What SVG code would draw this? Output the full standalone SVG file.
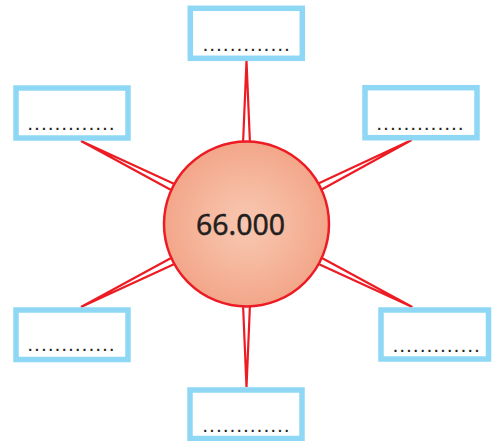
<svg xmlns="http://www.w3.org/2000/svg" width="492" height="441" viewBox="0 0 492 441">
<style>
.box{fill:#ffffff;stroke:#8fd8f5;stroke-width:5.5}
.dots{font-family:"Liberation Sans",Arial,sans-serif;font-size:14px;font-weight:bold;fill:#231f20;letter-spacing:2.9px}
.wedge{fill:none;stroke:#ed1c24;stroke-width:2.2;stroke-linejoin:miter}
.num{font-family:"Noto Sans","Liberation Sans",sans-serif;font-size:28.5px;fill:#231f20;stroke:#231f20;stroke-width:0.4;text-anchor:middle}
</style>
<defs>
<radialGradient id="g" cx="50%" cy="50%" r="50%">
<stop offset="0" stop-color="#f8c6b1"/>
<stop offset="0.4" stop-color="#f6bca3"/>
<stop offset="1" stop-color="#f3a689"/>
</radialGradient>
</defs>
<rect width="492" height="441" fill="#ffffff"/>
<g id="connectors">
<path class="wedge" d="M243,144 L246.5,61 L250,144"/>
<path class="wedge" d="M176.6,185 L81,141 L173.4,191.2"/>
<path class="wedge" d="M319.4,190.8 L411.7,140 L316.2,184.6"/>
<path class="wedge" d="M173.4,256.8 L81,307 L176.6,263"/>
<path class="wedge" d="M316.4,262.9 L412.3,307 L319.6,256.7"/>
<path class="wedge" d="M243,304 L246.5,387 L250,304"/>
</g>
<g id="box-top">
<rect class="box" x="190.3" y="8.3" width="112" height="50"/>
<text class="dots" x="203.5" y="51">.............</text>
</g>
<g id="box-left-top">
<rect class="box" x="16" y="88" width="112" height="50"/>
<text class="dots" x="28.3" y="130">.............</text>
</g>
<g id="box-right-top">
<rect class="box" x="365" y="87.7" width="112" height="50"/>
<text class="dots" x="377.3" y="130">.............</text>
</g>
<g id="box-left-bottom">
<rect class="box" x="16" y="310" width="112" height="49.5"/>
<text class="dots" x="28.3" y="351">.............</text>
</g>
<g id="box-right-bottom">
<rect class="box" x="381" y="310" width="107.5" height="49"/>
<text class="dots" x="393.5" y="351.7">.............</text>
</g>
<g id="box-bottom">
<rect class="box" x="190" y="390" width="112" height="48.5"/>
<text class="dots" x="203.3" y="431.7">.............</text>
</g>
<g id="center">
<circle cx="246.5" cy="224" r="82.5" fill="url(#g)" stroke="#ed1c24" stroke-width="2.5"/>
<text class="num" x="240.5" y="235">66.000</text>
</g>
</svg>
